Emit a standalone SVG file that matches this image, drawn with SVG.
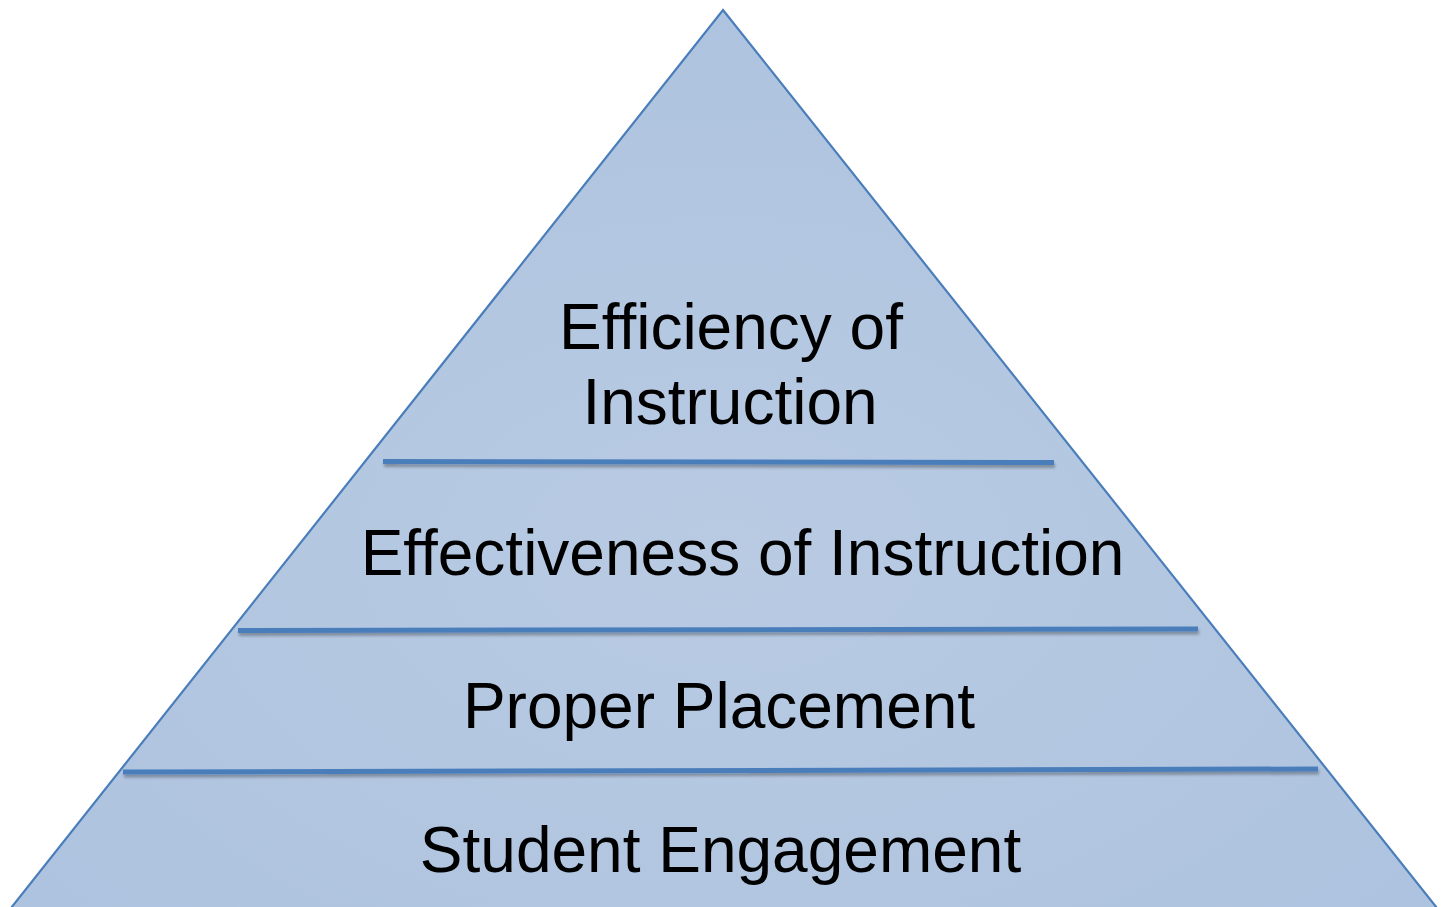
<svg xmlns="http://www.w3.org/2000/svg" width="1445" height="907" viewBox="0 0 1445 907">
<defs>
<radialGradient id="fill" cx="0.5" cy="0.6" r="0.6">
<stop offset="0" stop-color="#b9cbe3"/>
<stop offset="1" stop-color="#aec3df"/>
</radialGradient>
<filter id="sh" x="-5%" y="-200%" width="110%" height="500%">
<feGaussianBlur in="SourceAlpha" stdDeviation="1.5"/>
<feOffset dx="1" dy="3" result="b"/>
<feComponentTransfer><feFuncA type="linear" slope="0.3"/></feComponentTransfer>
<feMerge><feMergeNode/><feMergeNode in="SourceGraphic"/></feMerge>
</filter>
</defs>
<style>
.lbl{font-family:"Liberation Sans",Arial,sans-serif;font-size:64px;fill:#000;text-anchor:middle}
.div{stroke:#4a7ebb;stroke-width:5;fill:none}
</style>
<rect width="1445" height="907" fill="#fff"/>
<g id="pyramid">
<polygon points="723,10 1437,908 11,908" fill="url(#fill)" stroke="#4a7ebb" stroke-width="2.2"/>
</g>
<g id="connectors" filter="url(#sh)">
<line class="div" x1="383" y1="461.5" x2="1054" y2="462.5"/>
<line class="div" x1="238" y1="630.5" x2="1198" y2="629"/>
<line class="div" x1="123" y1="772" x2="1318" y2="769"/>
</g>
<g id="level-efficiency"><text class="lbl" x="731" y="349">Efficiency of</text><text class="lbl" x="730" y="424">Instruction</text></g>
<g id="level-effectiveness"><text class="lbl" x="742.5" y="575">Effectiveness of Instruction</text></g>
<g id="level-placement"><text class="lbl" x="719" y="728">Proper Placement</text></g>
<g id="level-engagement"><text class="lbl" x="720.5" y="872">Student Engagement</text></g>
</svg>
